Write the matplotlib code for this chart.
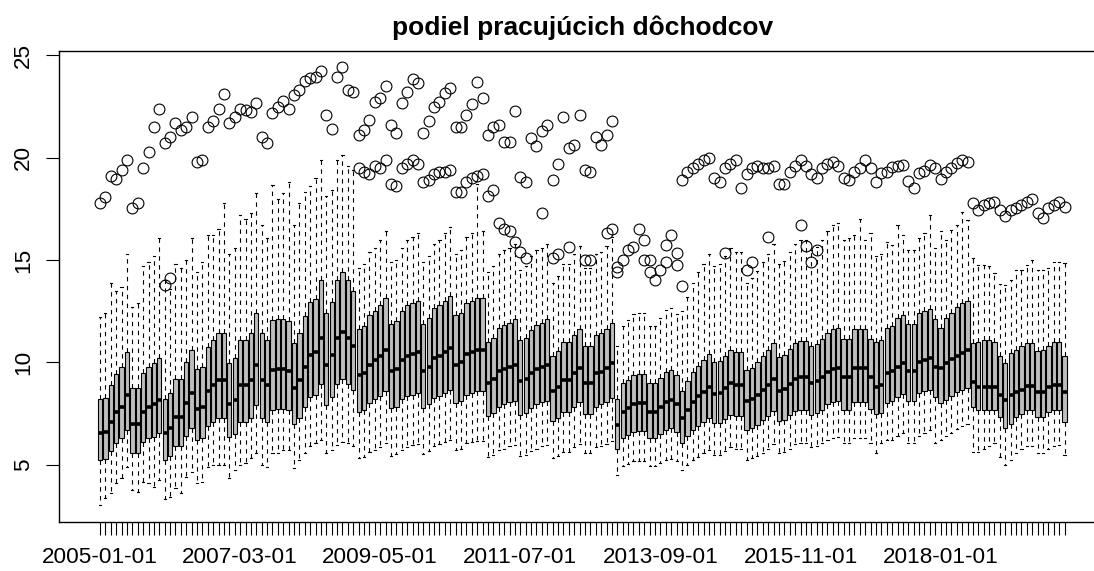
import matplotlib
matplotlib.use("Agg")
import matplotlib.pyplot as plt

# monthly boxes 2005-01 .. 2019-12 (one row per year)
med = [
    6.55, 6.6, 7.1, 7.57, 7.85, 8.4, 7.0, 7.0, 7.6, 7.85, 7.95, 8.17,
    6.55, 6.8, 7.35, 7.35, 8.0, 8.5, 7.75, 7.85, 8.6, 8.9, 9.15, 9.15,
    7.95, 8.15, 8.9, 8.9, 9.15, 9.9, 9.15, 8.9, 9.65, 9.7, 9.7, 9.6,
    8.75, 9.15, 9.8, 10.35, 10.5, 11.2, 9.9, 10.35, 11.2, 11.5, 11.2, 10.8,
    9.4, 9.5, 9.9, 10.1, 10.3, 10.6, 9.6, 9.7, 10.1, 10.3, 10.4, 10.5,
    9.6, 9.8, 10.2, 10.3, 10.5, 10.7, 9.9, 10.0, 10.4, 10.5, 10.6, 10.6,
    9.0, 9.2, 9.6, 9.7, 9.8, 9.9, 9.1, 9.2, 9.5, 9.7, 9.8, 9.9,
    8.6, 8.8, 9.15, 9.15, 9.47, 9.72, 9.02, 9.02, 9.47, 9.55, 9.72, 9.96,
    6.95, 7.6, 7.77, 7.98, 8.0, 8.0, 7.6, 7.6, 7.85, 8.09, 8.17, 7.98,
    7.28, 7.69, 8.09, 8.34, 8.58, 8.82, 8.47, 8.5, 8.74, 8.99, 8.9, 8.9,
    8.1, 8.2, 8.4, 8.65, 8.9, 9.2, 8.6, 8.7, 8.95, 9.2, 9.3, 9.3,
    9.0, 9.1, 9.3, 9.55, 9.7, 9.75, 9.3, 9.3, 9.72, 9.72, 9.72, 9.31,
    8.82, 8.9, 9.47, 9.56, 9.8, 9.96, 9.6, 9.6, 10.04, 10.13, 10.2, 9.8,
    9.72, 9.96, 10.16, 10.32, 10.48, 10.6, 9.07, 8.82, 8.82, 8.82, 8.82, 8.42,
    8.17, 8.42, 8.58, 8.66, 8.86, 8.86, 8.58, 8.58, 8.82, 8.9, 8.9, 8.58,
]
q3 = [
    8.2, 8.25, 8.9, 9.45, 9.8, 10.5, 8.75, 8.75, 9.5, 9.8, 9.95, 10.2,
    8.2, 8.5, 9.2, 9.2, 10.0, 10.6, 9.7, 9.8, 10.75, 11.1, 11.45, 11.45,
    9.95, 10.2, 11.1, 11.1, 11.45, 12.4, 11.45, 11.1, 12.05, 12.1, 12.1, 12.0,
    10.95, 11.45, 12.25, 12.95, 13.1, 14.0, 12.4, 12.95, 14.0, 14.4, 14.0, 13.5,
    11.65, 11.8, 12.3, 12.5, 12.8, 13.15, 11.9, 12.0, 12.5, 12.8, 12.9, 13.0,
    11.9, 12.15, 12.65, 12.8, 13.0, 13.25, 12.3, 12.4, 12.9, 13.0, 13.15, 13.15,
    11.0, 11.2, 11.7, 11.85, 11.95, 12.1, 11.1, 11.2, 11.6, 11.85, 11.95, 12.1,
    10.3, 10.55, 11.0, 11.0, 11.35, 11.65, 10.8, 10.8, 11.35, 11.45, 11.65, 11.95,
    8.2, 9.0, 9.15, 9.4, 9.45, 9.45, 9.0, 9.0, 9.25, 9.55, 9.65, 9.4,
    8.6, 9.1, 9.55, 9.85, 10.1, 10.4, 10.0, 10.05, 10.3, 10.6, 10.5, 10.5,
    9.65, 9.75, 10.0, 10.3, 10.6, 10.95, 10.25, 10.35, 10.65, 10.95, 11.05, 11.05,
    10.8, 10.9, 11.15, 11.45, 11.65, 11.7, 11.15, 11.15, 11.65, 11.65, 11.65, 11.15,
    11.0, 11.1, 11.7, 11.8, 12.15, 12.3, 11.9, 11.9, 12.4, 12.5, 12.6, 12.1,
    11.7, 12.15, 12.4, 12.7, 12.9, 13.0, 10.95, 11.0, 11.1, 11.1, 11.0, 10.3,
    9.95, 10.45, 10.6, 10.8, 10.95, 10.95, 10.55, 10.6, 10.8, 11.0, 11.0, 10.3,
]
q1 = [
    5.25, 5.3, 5.7, 6.05, 6.3, 6.7, 5.6, 5.6, 6.1, 6.3, 6.35, 6.55,
    5.25, 5.45, 5.9, 5.9, 6.4, 6.8, 6.2, 6.3, 6.9, 7.1, 7.3, 7.3,
    6.35, 6.5, 7.1, 7.1, 7.3, 7.9, 7.3, 7.1, 7.7, 7.75, 7.75, 7.7,
    7.0, 7.3, 7.85, 8.3, 8.4, 8.95, 7.9, 8.3, 8.95, 9.2, 8.95, 8.65,
    7.6, 7.7, 8.0, 8.2, 8.35, 8.6, 7.8, 7.85, 8.2, 8.35, 8.4, 8.5,
    7.8, 7.95, 8.25, 8.35, 8.5, 8.65, 8.0, 8.1, 8.4, 8.5, 8.6, 8.6,
    7.4, 7.55, 7.85, 7.95, 8.05, 8.1, 7.45, 7.55, 7.8, 7.95, 8.05, 8.1,
    7.15, 7.3, 7.6, 7.6, 7.85, 8.05, 7.5, 7.5, 7.85, 7.95, 8.05, 8.25,
    5.8, 6.3, 6.45, 6.6, 6.65, 6.65, 6.3, 6.3, 6.5, 6.7, 6.8, 6.6,
    6.05, 6.4, 6.7, 6.9, 7.1, 7.3, 7.05, 7.05, 7.25, 7.45, 7.4, 7.4,
    6.7, 6.8, 6.95, 7.2, 7.4, 7.65, 7.15, 7.2, 7.45, 7.65, 7.7, 7.7,
    7.45, 7.55, 7.7, 7.95, 8.05, 8.1, 7.7, 7.7, 8.05, 8.05, 8.05, 7.75,
    7.5, 7.55, 8.0, 8.1, 8.3, 8.45, 8.1, 8.1, 8.5, 8.6, 8.65, 8.3,
    8.0, 8.15, 8.35, 8.55, 8.65, 8.75, 7.85, 7.7, 7.7, 7.7, 7.7, 7.35,
    6.8, 7.0, 7.35, 7.5, 7.7, 7.7, 7.35, 7.35, 7.6, 7.7, 7.7, 7.1,
]
whi = [
    12.24, 12.43, 13.86, 13.5, 13.7, 15.3, 12.7, 12.9, 14.7, 14.9, 15.2, 16.06,
    14.0, 13.6, 14.8, 14.6, 15.0, 16.06, 14.4, 14.9, 16.2, 16.2, 16.5, 17.77,
    15.3, 15.6, 17.2, 17.0, 17.3, 18.25, 16.7, 16.06, 18.66, 18.0, 18.25, 18.8,
    16.7, 17.77, 18.3, 18.6, 18.98, 19.88, 18.1, 18.4, 19.9, 20.12, 19.6, 19.4,
    14.6, 14.8, 15.4, 15.6, 16.0, 16.4, 14.9, 15.0, 15.6, 16.0, 16.1, 16.3,
    14.9, 15.2, 15.8, 16.0, 16.3, 16.6, 15.3, 15.5, 16.1, 16.3, 18.7, 16.4,
    14.4, 14.7, 15.3, 15.5, 15.6, 15.8, 14.5, 14.7, 15.2, 15.5, 15.6, 15.8,
    13.9, 14.2, 14.8, 14.8, 15.3, 15.7, 14.6, 14.6, 15.3, 15.4, 15.7, 16.1,
    10.8, 11.8, 12.05, 12.35, 12.4, 12.4, 11.8, 11.8, 12.15, 12.55, 12.65, 12.35,
    12.5, 13.2, 13.9, 14.4, 14.8, 15.3, 14.7, 14.8, 15.2, 15.6, 15.4, 15.4,
    13.9, 14.1, 14.45, 14.9, 15.3, 15.8, 14.8, 14.95, 15.4, 15.8, 16.0, 16.0,
    15.5, 15.65, 16.0, 16.4, 16.7, 16.8, 16.0, 16.06, 16.2, 17.0, 15.98, 16.3,
    15.2, 15.3, 15.9, 15.75, 16.7, 16.2, 15.5, 15.5, 16.05, 16.3, 17.2, 15.6,
    16.4, 16.0, 16.45, 16.7, 17.35, 16.95, 15.1, 14.75, 14.75, 14.7, 14.35, 13.85,
    13.8, 14.0, 14.5, 14.5, 14.75, 15.0, 14.5, 14.5, 14.6, 14.9, 14.9, 14.85,
]
wlo = [
    3.04, 3.37, 3.61, 4.1, 4.35, 4.9, 3.78, 3.7, 4.18, 4.1, 3.9, 4.26,
    3.32, 3.45, 3.86, 3.61, 4.43, 4.67, 4.1, 4.18, 4.9, 5.0, 5.0, 5.0,
    4.35, 4.75, 5.0, 5.08, 5.32, 5.57, 5.0, 4.9, 5.57, 5.57, 5.73, 5.73,
    4.83, 5.24, 5.57, 5.9, 6.05, 6.22, 5.57, 5.73, 5.97, 6.13, 6.05, 5.9,
    5.35, 5.4, 5.65, 5.75, 5.85, 6.05, 5.45, 5.55, 5.75, 5.85, 5.95, 6.0,
    5.55, 5.7, 5.9, 6.0, 6.1, 6.2, 5.75, 5.8, 6.05, 6.1, 6.15, 6.15,
    5.4, 5.5, 5.75, 5.8, 5.9, 5.95, 5.45, 5.5, 5.7, 5.8, 5.9, 5.95,
    5.35, 5.45, 5.65, 5.65, 5.85, 6.0, 5.6, 5.6, 5.85, 5.9, 6.0, 6.15,
    4.5, 4.95, 5.05, 5.2, 5.2, 5.2, 4.95, 4.95, 5.1, 5.25, 5.3, 5.2,
    4.75, 5.0, 5.25, 5.4, 5.6, 5.75, 5.5, 5.5, 5.7, 5.85, 5.8, 5.8,
    5.25, 5.35, 5.45, 5.6, 5.8, 6.0, 5.6, 5.65, 5.8, 6.0, 6.05, 6.05,
    5.85, 5.9, 6.05, 6.2, 6.3, 6.35, 6.05, 6.05, 6.3, 6.3, 6.3, 6.05,
    5.57, 6.06, 6.22, 6.22, 6.39, 6.55, 6.06, 6.06, 6.39, 6.55, 6.71, 6.06,
    6.2, 6.4, 6.55, 6.75, 6.9, 7.0, 5.65, 5.65, 5.8, 5.9, 6.05, 5.4,
    5.0, 5.25, 5.57, 5.8, 5.9, 5.9, 5.57, 5.57, 5.8, 5.9, 5.98, 5.5,
]

# highest outlier of each month (None = no outlier)
N = None
top_out = [
    17.8, 18.09, 19.1, 18.94, 19.39, 19.88, 17.52, 17.8, 19.47, 20.28, 21.47, 22.37,
    20.72, 20.98, 21.7, 21.34, 21.5, 21.99, 19.8, 19.88, 21.47, 21.8, 22.37, 23.1,
    21.67, 21.96, 22.37, 22.32, 22.24, 22.68, 21.02, 20.72, 22.19, 22.48, 22.77, 22.35,
    23.05, 23.29, 23.75, 23.86, 23.94, 24.24, 22.07, 21.37, 23.94, 24.4, 23.29, 23.2,
    21.1, 21.34, 21.83, 22.72, 22.89, 23.49, 21.59, 21.18, 22.67, 23.2, 23.81, 23.62,
    21.18, 21.8, 22.45, 22.72, 23.16, 23.37, 21.5, 21.5, 22.07, 22.61, 23.67, 22.89,
    21.1, 21.5, 21.59, 20.77, 20.77, 22.29, 19.07, 18.82, 20.94, 20.56, 21.31, 21.59,
    18.9, 19.68, 21.96, 20.45, 20.61, 22.07, 19.39, 19.31, 21.02, 20.61, 21.1, 21.8,
    N, N, N, N, N, N, N, N, N, N, N, N,
    18.9, 19.3, 19.5, 19.7, 19.9, 20.0, 19.0, 18.8, 19.5, 19.7, 19.9, 18.5,
    19.2, 19.5, 19.6, 19.5, 19.5, 19.6, 18.7, 18.7, 19.3, 19.6, 19.9, 19.6,
    19.2, 19.0, 19.5, 19.7, 19.8, 19.6, 19.0, 18.9, 19.31, 19.47, 19.88, 19.47,
    18.83, 19.23, 19.31, 19.56, 19.59, 19.64, 18.87, 18.5, 19.23, 19.36, 19.64, 19.5,
    18.94, 19.31, 19.47, 19.72, 19.88, 19.8, 17.8, 17.44, 17.7, 17.77, 17.85, 17.44,
    17.15, 17.44, 17.52, 17.69, 17.85, 17.96, 17.31, 17.04, 17.52, 17.69, 17.85, 17.57,
]

# further outliers: month index and value
extra_idx = [
    12, 13,
    48, 49, 50, 51, 52, 53, 54, 55, 56, 57, 58, 59,
    60, 61, 62, 63, 64, 65, 66, 67, 68, 69, 70, 71,
    72, 73, 74, 75, 76, 77, 78, 79, 82,
    84, 85, 87, 90, 91, 94, 95,
    96, 96, 97, 98, 99, 100, 101, 101, 102, 102, 103, 104, 105, 105, 106, 107, 107,
    108, 116, 120, 121, 124, 130, 131, 132, 133,
]
extra_val = [
    13.78, 14.1,
    19.5, 19.3, 19.2, 19.6, 19.5, 19.9, 18.7, 18.6, 19.5, 19.7, 19.9, 19.7,
    18.8, 18.9, 19.2, 19.3, 19.3, 19.4, 18.3, 18.3, 18.8, 19.0, 19.1, 19.2,
    18.1, 18.4, 16.8, 16.5, 16.4, 15.9, 15.4, 15.1, 17.3,
    15.1, 15.3, 15.65, 15.0, 15.0, 16.3, 16.5,
    14.43, 14.68, 15.0, 15.49, 15.62, 16.5, 15.98, 15.0, 15.0, 14.43, 14.03, 14.5, 14.92, 15.74,
    16.22, 15.33, 14.76,
    13.73, 15.33, 14.5, 14.92, 16.1, 16.71, 15.7, 14.9, 15.5,
]

# every month gets a tick, only every 26th month is labelled
month_labels = ["2005-01-01", "2007-03-01", "2009-05-01", "2011-07-01",
                "2013-09-01", "2015-11-01", "2018-01-01"]
label_step = 26

plt.rcParams["font.family"] = ["Liberation Sans", "DejaVu Sans"]

n = len(med)
stats = []
for i in range(n):
    fl = [v for j, v in zip(extra_idx, extra_val) if j == i]
    if top_out[i] is not None:
        fl.append(top_out[i])
    stats.append(dict(med=med[i], q1=q1[i], q3=q3[i],
                      whislo=wlo[i], whishi=whi[i], fliers=fl))

fig = plt.figure(figsize=(10.94, 5.71), dpi=100)
ax = fig.add_axes([0.0535, 0.0853, 0.9575, 0.8254])

ax.bxp(stats, positions=list(range(n)), widths=0.8, capwidths=0.4,
       patch_artist=True, manage_ticks=False,
       boxprops=dict(facecolor="#bebebe", edgecolor="black", linewidth=0.8),
       medianprops=dict(color="black", linewidth=2.6, solid_capstyle="butt"),
       whiskerprops=dict(color="black", linewidth=0.8, linestyle=(0, (4, 4))),
       capprops=dict(color="black", linewidth=0.8),
       flierprops=dict(marker="o", markerfacecolor="none", markeredgecolor="black",
                       markersize=7.8, markeredgewidth=0.8, linestyle="none"))

ax.set_xlim(-0.5 - 0.04 * n, n - 0.5 + 0.04 * n)
ax.set_ylim(2.2, 25.2)

ax.set_xticks(range(n))
xl = [""] * n
for k, lab in enumerate(month_labels):
    xl[k * label_step] = lab
ax.set_xticklabels(xl, fontsize=16.2)
ax.tick_params(axis="x", length=9.7, width=0.8, pad=8)

ax.set_yticks([5, 10, 15, 20, 25])
ax.set_yticklabels(["5", "10", "15", "20", "25"], rotation=90, va="center", fontsize=16.2)
ax.tick_params(axis="y", length=9.7, width=0.8, pad=8)

for s in ax.spines.values():
    s.set_linewidth(1.0)

ax.set_title("podiel pracujúcich dôchodcov", fontsize=19, fontweight="bold", pad=11.5)

fig.savefig("out.png", dpi=100)
